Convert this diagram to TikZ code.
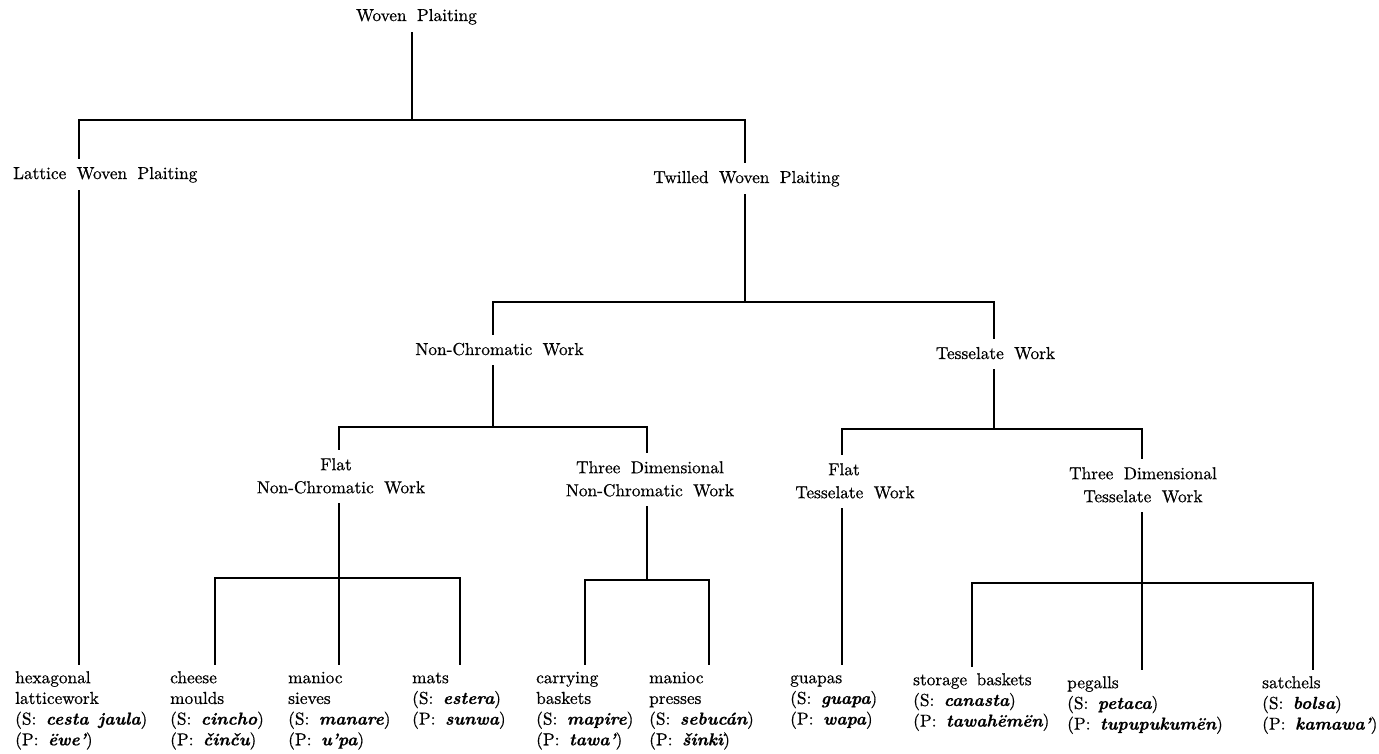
\documentclass[tikz,border=0pt]{standalone}
\usepackage{fontspec}
\setmainfont{lmroman10}[Extension=.otf, UprightFont=*-regular, BoldFont=*-bold, ItalicFont=*-italic, BoldItalicFont=*-bolditalic, UprightFeatures={FakeBold=0.6}]
\newfontfamily\nmfont{lmroman10-bolditalic.otf}[FakeBold=0.8]
\newcommand\lblfont{\fontsize{17.3pt}{23pt}\selectfont\spaceskip=0.6em plus 0.15em minus 0.1em\relax}
\newcommand\leaffont{\fontsize{17.3pt}{20.7pt}\selectfont\spaceskip=0.55em plus 0.15em minus 0.1em\relax}
\newcommand\lstrut{\rule[-3pt]{0pt}{16pt}}
\newcommand\fstrut{\rule{0pt}{12pt}}
\newcommand\nm[1]{{\nmfont #1}}
\begin{document}
\begin{tikzpicture}[x=1pt,y=-1pt,
  lbl/.style={inner xsep=0pt, inner ysep=8pt, font=\lblfont, align=center},
  leaf/.style={inner xsep=0pt, inner ysep=7pt, font=\leaffont, align=left, anchor=north west},
  conn/.style={line width=2.2pt, line cap=rect, line join=miter}]
\useasboundingbox (0,0) rectangle (1379,753);

% labels
\node[lbl, anchor=base] (root) at (416.5,21) {\lstrut Woven Plaiting};
\node[lbl, anchor=base west] (lattice) at (13,179) {\lstrut Lattice Woven Plaiting};
\node[lbl, anchor=base] (twilled) at (746.5,183) {\lstrut Twilled Woven Plaiting};
\node[lbl, anchor=base] (ncw) at (499.5,355) {\lstrut Non-Chromatic Work};
\node[lbl, anchor=base] (tess) at (995.5,359) {\lstrut Tesselate Work};
\node[lbl, anchor=north] (fnc) at (341,449) {\lstrut Flat\hspace*{10pt}\\ \lstrut Non-Chromatic Work};
\node[lbl, anchor=north] (tdnc) at (650,452) {\lstrut Three Dimensional\\ \lstrut Non-Chromatic Work};
\node[lbl, anchor=north] (ft) at (855,454) {\lstrut Flat\hspace*{22pt}\\ \lstrut Tesselate Work};
\node[lbl, anchor=north] (tdt) at (1143,458) {\lstrut Three Dimensional\\ \lstrut Tesselate Work};

% leaves
\node[leaf] (hex) at (15,664) {\fstrut hexagonal\\latticework\\(S: \nm{cesta jaula})\\(P: \nm{ëwe’})};
\node[leaf] (cheese) at (170,664) {\fstrut cheese\\moulds\\(S: \nm{cincho})\\(P: \nm{činču})};
\node[leaf] (sieves) at (288,664) {\fstrut manioc\\sieves\\(S: \nm{manare})\\(P: \nm{u’pa})};
\node[leaf] (mats) at (412,664) {\fstrut mats\\(S: \nm{estera})\\(P: \nm{sunwa})};
\node[leaf] (carrying) at (536,664) {\fstrut carrying\\baskets\\(S: \nm{mapire})\\(P: \nm{tawa’})};
\node[leaf] (presses) at (649,664) {\fstrut manioc\\presses\\(S: \nm{sebucán})\\(P: \nm{šinkï})};
\node[leaf] (guapas) at (790,664) {\fstrut guapas\\(S: \nm{guapa})\\(P: \nm{wapa})};
\node[leaf] (storage) at (913,666) {\fstrut storage baskets\\(S: \nm{canasta})\\(P: \nm{tawahëmën})};
\node[leaf] (pegalls) at (1067,669) {\fstrut pegalls\\(S: \nm{petaca})\\(P: \nm{tupupukumën})};
\node[leaf] (satchels) at (1262,669) {\fstrut satchels\\(S: \nm{bolsa})\\(P: \nm{kamawa’})};

% junctions
\coordinate (t0) at (412,120);
\coordinate (tl) at (79,120);
\coordinate (tr) at (745,120);
\coordinate (t1) at (745,302);
\coordinate (t1l) at (493,302);
\coordinate (t1r) at (994,302);
\coordinate (t2) at (493,427);
\coordinate (t2l) at (339,427);
\coordinate (t2r) at (647,427);
\coordinate (t3) at (994,429);
\coordinate (t3l) at (842,429);
\coordinate (t3r) at (1142,429);
\coordinate (t4) at (339,578);
\coordinate (t4l) at (215,578);
\coordinate (t4r) at (460,578);
\coordinate (t5) at (647,580);
\coordinate (t5l) at (585,580);
\coordinate (t5r) at (709,580);
\coordinate (t6) at (1142,583);
\coordinate (t6l) at (972,583);
\coordinate (t6r) at (1313,583);

% connectors
\draw[conn] (root.south -| t0) -- (t0);
\draw[conn] (tl |- lattice.north) -- (tl) -- (tr) -- (tr |- twilled.north);
\draw[conn] (tl |- lattice.south) -- (tl |- hex.north);

\draw[conn] (twilled.south -| t1) -- (t1);
\draw[conn] (t1l |- ncw.north) -- (t1l) -- (t1r) -- (t1r |- tess.north);

\draw[conn] (ncw.south -| t2) -- (t2);
\draw[conn] (t2l |- fnc.north) -- (t2l) -- (t2r) -- (t2r |- tdnc.north);

\draw[conn] (tess.south -| t3) -- (t3);
\draw[conn] (t3l |- ft.north) -- (t3l) -- (t3r) -- (t3r |- tdt.north);

\draw[conn] (fnc.south -| t4) -- (t4);
\draw[conn] (t4l |- cheese.north) -- (t4l) -- (t4r) -- (t4r |- mats.north);
\draw[conn] (t4) -- (t4 |- sieves.north);

\draw[conn] (tdnc.south -| t5) -- (t5);
\draw[conn] (t5l |- carrying.north) -- (t5l) -- (t5r) -- (t5r |- presses.north);

\draw[conn] (ft.south -| t3l) -- (t3l |- guapas.north);

\draw[conn] (tdt.south -| t6) -- (t6);
\draw[conn] (t6l |- storage.north) -- (t6l) -- (t6r) -- (t6r |- satchels.north);
\draw[conn] (t6) -- (t6 |- pegalls.north);
\end{tikzpicture}
\end{document}
